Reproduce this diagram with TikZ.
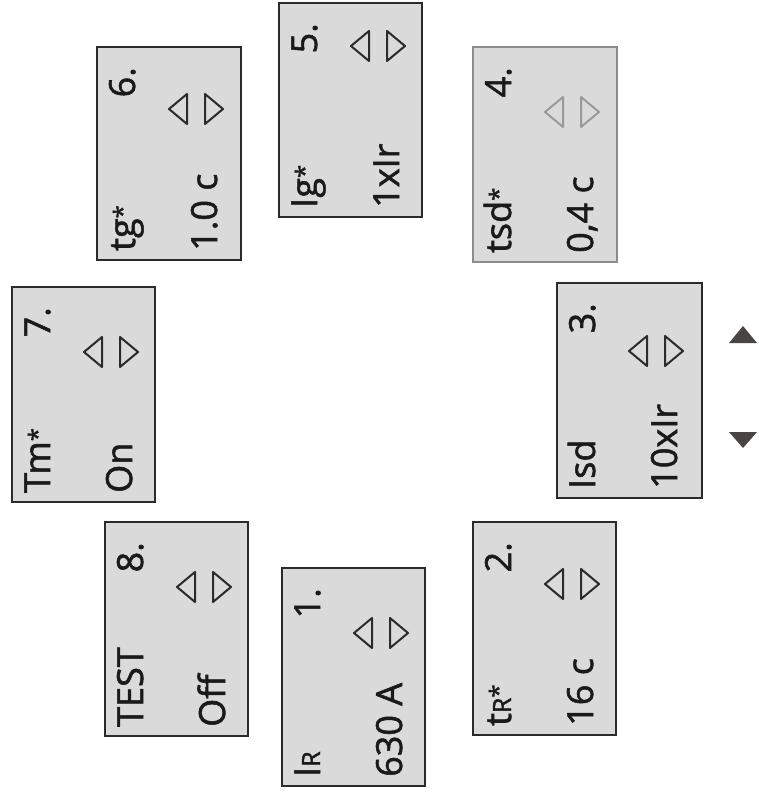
\documentclass[tikz,border=0pt]{standalone}
\usepackage{fontspec}
\setmainfont{Open Sans}[FakeBold=1.5]
\usetikzlibrary{calc}
\definecolor{boxfill}{HTML}{DADADA}
\definecolor{boxline}{HTML}{2B2B2B}
\definecolor{dimline}{HTML}{8C8C8C}
\definecolor{dimtri}{HTML}{9A9A9A}
\definecolor{arrowfill}{HTML}{4A4542}
\definecolor{textcol}{HTML}{1A1A1A}
\colorlet{pline}{boxline}
\colorlet{ptri}{boxline}
\newcommand\pst{{\fontsize{24}{24}\selectfont\raisebox{4pt}{*}}}
\newcommand\psub[1]{{\fontsize{25}{25}\selectfont #1}}
\tikzset{
  panelbox/.style={draw=pline, fill=boxfill, line width=2.2pt, inner sep=0pt, outer sep=0pt, anchor=north west, rectangle},
  ptext/.style={rotate=90, font=\fontsize{36}{36}\selectfont, text=textcol, inner sep=0pt},
  tri/.style={draw=ptri, line width=2pt, line join=round},
  keytri/.style={fill=arrowfill}
}
\newcommand\panel[9]{%
  \node[panelbox, minimum width={(#4-#2)*1pt}, minimum height={(#5-#3)*1pt}] (#1) at (#2,#3) {};
  \node[ptext, anchor=base west] (#1-label) at ($(#1.south west)+(38,-9)$) {#6};
  \node[ptext, anchor=base east] (#1-num) at ($(#1.north west)+(38,20)$) {#7};
  \node[ptext, anchor=base west] (#1-val) at ($(#1.south west)+(120,-9)$) {#8};
  \draw[tri] ($(#1.north west)+(72,#9)$) -- ++(18,-15) -- ++(0,30) -- cycle;
  \draw[tri] ($(#1.north west)+(126,#9)$) -- ++(-18,-15) -- ++(0,30) -- cycle;
}
\begin{document}
\begin{tikzpicture}[x=1pt,y=-1pt]
\fill[white] (0,0) rectangle (758,794);
\useasboundingbox (0,0) rectangle (758,794);
\panel{p1}{282}{568}{425}{786}{I\psub{R}}{1.}{630 A}{65}
\panel{p2}{473}{522}{616}{735}{t\psub{R}\pst}{2.}{16 c}{62}
\panel{p3}{557}{283}{702}{498}{Isd}{3.}{10xIr}{68}
\begin{scope}
\colorlet{pline}{dimline}
\colorlet{ptri}{dimtri}
\panel{p4}{473}{47}{617}{262}{tsd\pst}{4.}{0,4 c}{65}
\end{scope}
\panel{p5}{279}{3}{422}{217}{Ig\pst}{5.}{1xIr}{43}
\panel{p6}{97}{47}{241}{260}{tg\pst}{6.}{1.0 c}{62}
\panel{p7}{12}{287}{155}{502}{Tm\pst}{7.}{On}{65}
\panel{p8}{105}{522}{248}{736}{TEST}{8.}{Off}{65}
\fill[keytri] (729,343) -- (757,343) -- (743,326) -- cycle;
\fill[keytri] (729,432) -- (757,432) -- (743,448) -- cycle;
\end{tikzpicture}
\end{document}
